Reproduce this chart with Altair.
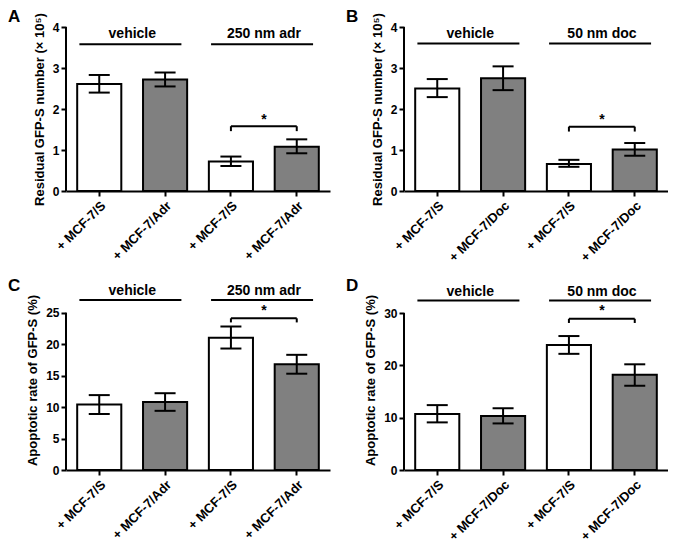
import altair as alt
import pandas as pd

FONT = "Liberation Sans"

# categories (unique keys) and their displayed tick labels
cat_keys = ["c1", "c2", "c3", "c4"]
cell_type = ["S", "R", "S", "R"]
labels_adr = ["+ MCF-7/S", "+ MCF-7/Adr", "+ MCF-7/S", "+ MCF-7/Adr"]
labels_doc = ["+ MCF-7/S", "+ MCF-7/Doc", "+ MCF-7/S", "+ MCF-7/Doc"]
groups_adr = ["vehicle", "250 nm adr"]
groups_doc = ["vehicle", "50 nm doc"]

# Panel A: residual GFP-S number (x 10^5), adriamycin
A_mean = [2.61, 2.72, 0.72, 1.08]
A_lo = [2.40, 2.55, 0.61, 0.92]
A_hi = [2.83, 2.89, 0.84, 1.26]
# Panel B: residual GFP-S number (x 10^5), docetaxel
B_mean = [2.50, 2.75, 0.66, 1.01]
B_lo = [2.29, 2.46, 0.59, 0.86]
B_hi = [2.73, 3.04, 0.76, 1.17]
# Panel C: apoptotic rate (%), adriamycin
C_mean = [10.4, 10.8, 21.0, 16.8]
C_lo = [8.9, 9.4, 19.3, 15.3]
C_hi = [11.9, 12.2, 22.8, 18.3]
# Panel D: apoptotic rate (%), docetaxel
D_mean = [10.7, 10.3, 23.9, 18.2]
D_lo = [9.1, 8.9, 22.2, 16.1]
D_hi = [12.4, 11.8, 25.6, 20.2]

ticks_resid = [0, 1, 2, 3, 4]
ticks_C = [0, 5, 10, 15, 20, 25]
ticks_D = [0, 10, 20, 30]

title_resid = "Residual GFP-S number (× 10⁵)"
title_apop = "Apoptotic rate of GFP-S (%)"

AXIS_STYLE = dict(labelFont=FONT, titleFont=FONT, titleFontSize=13,
                  labelFontWeight="bold", titleFontWeight="bold", labelColor="black",
                  titleColor="black", tickColor="black", domainColor="black",
                  tickWidth=2, domainWidth=2, tickSize=5, grid=False)


def panel(letter, labels, groups, mean, lo, hi, ytitle, ticks, ymax, height,
          gline_y, gtext_y, br_y, br_low, star_y, letter_dy):
    df = pd.DataFrame({"cat": cat_keys, "type": cell_type,
                       "mean": mean, "lo": lo, "hi": hi})
    arr = "[" + ",".join("'" + s + "'" for s in labels) + "]"
    keys = "[" + ",".join("'" + s + "'" for s in cat_keys) + "]"
    label_expr = arr + "[indexof(" + keys + ", datum.value)]"

    xscale = alt.Scale(type="band", domain=cat_keys, paddingInner=0.33, paddingOuter=0.17)
    yscale = alt.Scale(domain=[0, ymax], nice=False, zero=True)
    xaxis = alt.Axis(title=None, labelExpr=label_expr, labelAngle=-45, labelPadding=3,
                     labelFontSize=13, **AXIS_STYLE)
    yaxis = alt.Axis(title=ytitle, values=ticks, domain=False, labelPadding=2, titlePadding=6,
                     labelFontSize=12, **AXIS_STYLE)

    base = alt.Chart(df)
    bars = base.mark_bar(stroke="black", strokeWidth=2).encode(
        x=alt.X("cat:N", scale=xscale, axis=xaxis),
        y=alt.Y("mean:Q", scale=yscale, axis=yaxis),
        fill=alt.Fill("type:N", scale=alt.Scale(domain=["S", "R"], range=["white", "#808080"]), legend=None),
    )
    xc = alt.X("cat:N", scale=xscale, axis=None)
    err = base.mark_rule(color="black", strokeWidth=2).encode(
        x=xc, y=alt.Y("lo:Q", scale=yscale, axis=None), y2="hi:Q")
    cap_lo = base.mark_tick(color="black", size=21, thickness=2, opacity=1).encode(
        x=xc, y=alt.Y("lo:Q", scale=yscale, axis=None))
    cap_hi = base.mark_tick(color="black", size=21, thickness=2, opacity=1).encode(
        x=xc, y=alt.Y("hi:Q", scale=yscale, axis=None))

    # y axis line that stops at the last tick
    yaxis_df = pd.DataFrame({"y0": [0], "y1": [ticks[-1]]})
    yline = alt.Chart(yaxis_df).mark_rule(color="black", strokeWidth=2).encode(
        x=alt.value(0), y=alt.Y("y0:Q", scale=yscale, axis=None), y2="y1:Q")

    # treatment group lines and labels
    gdf = pd.DataFrame({"start": ["c1", "c3"], "end": ["c2", "c4"], "name": groups,
                        "ly": [gline_y, gline_y], "ty": [gtext_y, gtext_y]})
    glines = alt.Chart(gdf).mark_rule(color="black", strokeWidth=2).encode(
        x=alt.X("start:N", scale=xscale, axis=None, bandPosition=0.05),
        x2=alt.X2("end:N", bandPosition=0.87),
        y=alt.Y("ly:Q", scale=yscale, axis=None))
    gtext = alt.Chart(gdf).mark_text(fontSize=14, fontWeight="bold", font=FONT,
                                     align="center", baseline="middle", dx=11).encode(
        x=alt.X("start:N", scale=xscale, axis=None, bandPosition=1),
        y=alt.Y("ty:Q", scale=yscale, axis=None), text="name:N")

    # significance bracket
    bdf = pd.DataFrame({"a": ["c3"], "b": ["c4"], "y": [br_y], "s": ["*"], "sy": [star_y]})
    bline = alt.Chart(bdf).mark_rule(color="black", strokeWidth=2).encode(
        x=alt.X("a:N", scale=xscale, axis=None), x2="b:N",
        y=alt.Y("y:Q", scale=yscale, axis=None))
    edf = pd.DataFrame({"cat": ["c3", "c4"], "y": [br_y, br_y], "y2": [br_low, br_low]})
    bends = alt.Chart(edf).mark_rule(color="black", strokeWidth=2).encode(
        x=alt.X("cat:N", scale=xscale, axis=None),
        y=alt.Y("y:Q", scale=yscale, axis=None), y2="y2:Q")
    star = alt.Chart(bdf).mark_text(fontSize=14, fontWeight="bold", font=FONT,
                                    align="center", baseline="middle", dx=11).encode(
        x=alt.X("a:N", scale=xscale, axis=None, bandPosition=1),
        y=alt.Y("sy:Q", scale=yscale, axis=None), text="s:N")

    ldf = pd.DataFrame({"t": [letter]})
    let = alt.Chart(ldf).mark_text(fontSize=17, fontWeight="bold", font=FONT,
                                   align="left", baseline="middle").encode(
        x=alt.value(-58), y=alt.value(letter_dy), text="t:N")

    return alt.layer(bars, err, cap_lo, cap_hi, yline, glines, gtext, bline, bends, star, let).properties(
        width=264, height=height).resolve_axis(x="independent", y="independent")


pA = panel("A", labels_adr, groups_adr, A_mean, A_lo, A_hi, title_resid, ticks_resid,
           4, 164, 3.58, 3.82, 1.58, 1.46, 1.73, -10)
pB = panel("B", labels_doc, groups_doc, B_mean, B_lo, B_hi, title_resid, ticks_resid,
           4, 164, 3.6, 3.82, 1.57, 1.45, 1.73, -10)
pC = panel("C", labels_adr, groups_adr, C_mean, C_lo, C_hi, title_apop, ticks_C,
           28.6, 180, 27.0, 28.4, 24.1, 23.45, 25.2, -4)
pD = panel("D", labels_doc, groups_doc, D_mean, D_lo, D_hi, title_apop, ticks_D,
           34.4, 180, 32.4, 34.0, 28.9, 28.1, 30.3, -4)

row1 = alt.hconcat(pA, pB, spacing=16)
row2 = alt.hconcat(pC, pD, spacing=16)

chart = alt.vconcat(row1, row2, spacing=12, padding=0, background="white").configure_view(
    stroke=None
)

chart.save("out.html", embed_options={"renderer": "svg", "actions": False})
